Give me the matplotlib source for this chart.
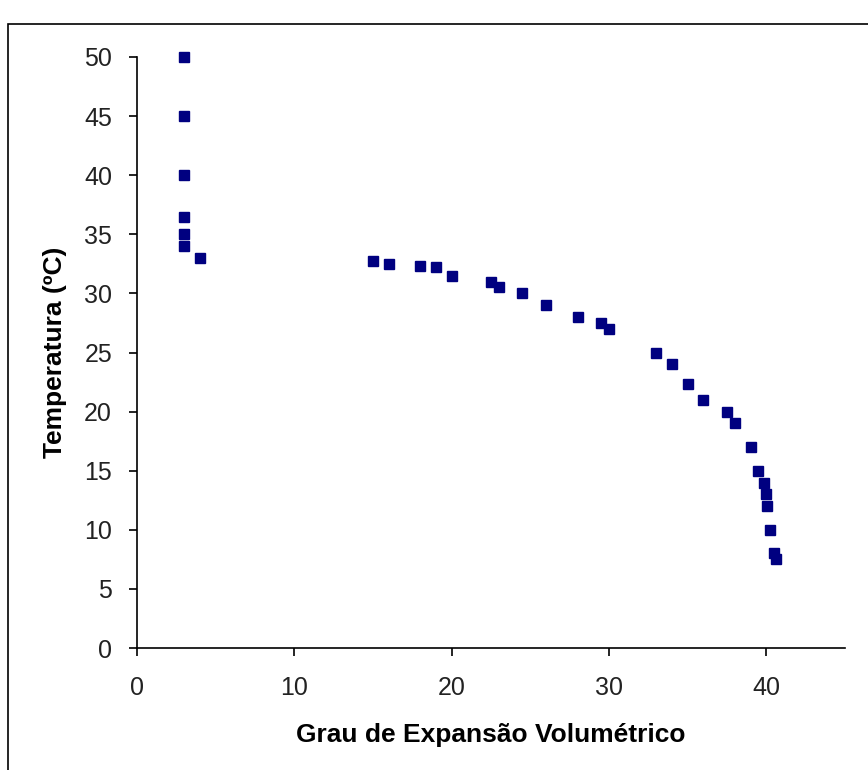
import numpy as np
import matplotlib.pyplot as plt
from matplotlib.patches import Rectangle

plt.rcParams['font.family'] = ['Liberation Sans', 'DejaVu Sans']

# dados
grau = [3, 3, 3, 3, 3, 3, 4,
        15, 16, 18, 19, 20, 22.5, 23, 24.5, 26, 28, 29.5, 30,
        33, 34, 35, 36, 37.5, 38, 39, 39.5, 39.85, 40, 40.05, 40.25, 40.5, 40.6]
temperatura = [50, 45, 40, 36.5, 35, 34, 33,
               32.7, 32.5, 32.3, 32.2, 31.5, 31, 30.5, 30, 29, 28, 27.5, 27,
               25, 24, 22.3, 21, 20, 19, 17, 15, 14, 13, 12, 10, 8, 7.5]

fig = plt.figure(figsize=(8.68, 7.7), dpi=100)
ax = fig.add_axes([137/868, 1-648/770, (845-137)/868, (648-57)/770])

ax.plot(grau, temperatura, 's', color='#000080', markersize=6.5, linestyle='none', clip_on=False)

ax.set_xlim(0, 45)
ax.set_ylim(0, 50)
ax.set_xticks([0, 10, 20, 30, 40])
ax.set_yticks(np.arange(0, 51, 5))
ax.spines['top'].set_visible(False)
ax.spines['right'].set_visible(False)
ax.spines['left'].set_linewidth(1.2)
ax.spines['bottom'].set_linewidth(1.2)
ax.tick_params(axis='both', direction='out', labelsize=18, width=1.2, labelcolor='#222222')
ax.tick_params(axis='x', length=6, pad=14)
ax.tick_params(axis='y', length=6, pad=12)

ax.set_xlabel('Grau de Expansão Volumétrico', fontsize=19, fontweight='bold', labelpad=17)
ax.set_ylabel('Temperatura (ºC)', fontsize=19, fontweight='bold', labelpad=12)

# moldura do gráfico (estilo Excel)
fig.patches.append(Rectangle((8/868, -0.1), 1.2, 1-24/770+0.1, transform=fig.transFigure,
                             fill=False, edgecolor='black', linewidth=1.2))

plt.savefig('out.png', dpi=100)
